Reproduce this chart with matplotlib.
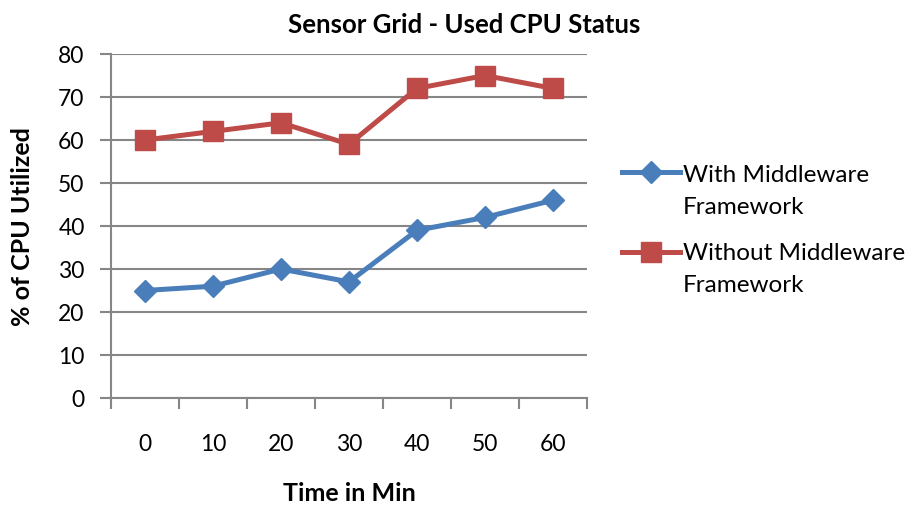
import matplotlib
matplotlib.use("Agg")
import matplotlib.pyplot as plt
from matplotlib.lines import Line2D

categories = ["0", "10", "20", "30", "40", "50", "60"]
with_mw = [25, 26, 30, 27, 39, 42, 46]
without_mw = [60, 62, 64, 59, 72, 75, 72]
series_names = ["With Middleware\nFramework", "Without Middleware\nFramework"]
yticks = [0, 10, 20, 30, 40, 50, 60, 70, 80]

plt.rcParams['font.family'] = ['Lato', 'DejaVu Sans']

W, H = 914, 506
fig = plt.figure(figsize=(W / 100, H / 100), dpi=100)
ax = fig.add_axes([111/W, 107/H, 476/W, 344/H])

blue = "#4A7EBB"
red = "#BE4B48"
grid = "#868686"

x = list(range(len(categories)))
ax.plot(x, with_mw, color=blue, lw=3.6, marker='D', ms=11, mec=blue, mfc=blue, zorder=3)
ax.plot(x, without_mw, color=red, lw=3.6, marker='s', ms=14.5, mec=red, mfc=red, zorder=3)

ax.set_xlim(-0.5, len(categories) - 0.5)
ax.set_ylim(0, 80)
ax.set_yticks(yticks)
ax.set_yticklabels([str(v) for v in yticks], fontsize=16.5)
ax.yaxis.grid(True, color=grid, lw=1.5)
ax.set_axisbelow(True)

ax.set_xticks([i - 0.5 for i in range(len(categories) + 1)])
ax.set_xticklabels([])
ax.set_xticks(x, minor=True)
ax.set_xticklabels(categories, minor=True, fontsize=16.5)
ax.tick_params(axis='x', which='major', length=8, width=1.5, color=grid, direction='out')
ax.tick_params(axis='x', which='minor', length=0, pad=25)
ax.tick_params(axis='y', length=8, width=1.5, color=grid, pad=11)

for s in ['top', 'right']:
    ax.spines[s].set_visible(False)
for s in ['left', 'bottom']:
    ax.spines[s].set_color(grid)
    ax.spines[s].set_linewidth(1.5)

fig.text(464/W, 1 - 25/H, "Sensor Grid - Used CPU Status", fontsize=18.5,
         fontweight='bold', ha='center', va='center')
ax.set_xlabel("Time in Min", fontsize=18, fontweight='bold', labelpad=20)
ax.set_ylabel("% of CPU Utilized", fontsize=18, fontweight='bold', labelpad=17)

# legend (handle aligned with first text line, as in the original)
handles = [
    Line2D([622/W, 680/W], [1 - 173/H] * 2, color=blue, lw=3.6),
    Line2D([622/W, 680/W], [1 - 253/H] * 2, color=red, lw=3.6),
]
markers = [
    Line2D([651/W], [1 - 173/H], marker='D', ms=11, color=blue, lw=0),
    Line2D([651/W], [1 - 253/H], marker='s', ms=14.5, color=red, lw=0),
]
for h in handles + markers:
    h.set_transform(fig.transFigure)
    fig.add_artist(h)
text_rows = [175, 253]
for name, y0 in zip(series_names, text_rows):
    for i, line in enumerate(name.split("\n")):
        fig.text(683/W, 1 - (y0 + i * 32.5)/H, line, fontsize=17.5,
                 ha='left', va='center')

fig.savefig("out.png", dpi=100)
